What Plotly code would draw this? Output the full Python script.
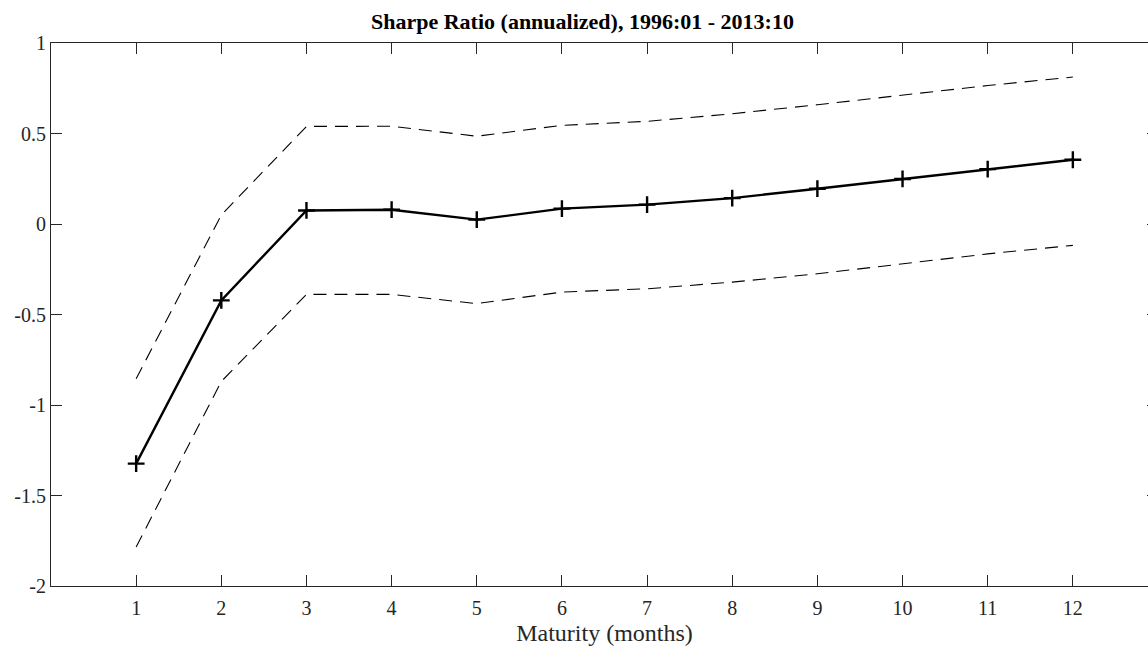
import plotly.graph_objects as go

maturity = [1, 2, 3, 4, 5, 6, 7, 8, 9, 10, 11, 12]
sharpe = [-1.324, -0.422, 0.075, 0.079, 0.024, 0.085, 0.107, 0.143, 0.195, 0.249, 0.303, 0.355]
upper = [-0.855, 0.05, 0.539, 0.54, 0.485, 0.545, 0.567, 0.609, 0.659, 0.712, 0.765, 0.812]
lower = [-1.785, -0.87, -0.389, -0.389, -0.44, -0.376, -0.358, -0.321, -0.275, -0.22, -0.165, -0.118]
yticks = [-2, -1.5, -1, -0.5, 0, 0.5, 1]
ytick_labels = ["-2", "-1.5", "-1", "-0.5", "0", "0.5", "1"]

FONT = "Liberation Serif"
AX = "#262626"

fig = go.Figure()
for band in (upper, lower):
    fig.add_trace(go.Scatter(x=maturity, y=band, mode="lines",
                             line=dict(color="black", width=1.1, dash="13px,8px"),
                             showlegend=False, hoverinfo="skip"))
fig.add_trace(go.Scatter(x=maturity, y=sharpe, mode="lines+markers",
                         line=dict(color="black", width=2.4),
                         marker=dict(symbol="cross-thin", size=12,
                                     line=dict(color="black", width=2.4)),
                         showlegend=False))

fig.update_layout(
    width=1158, height=647,
    margin=dict(l=51, r=0, t=42.5, b=61.3),
    plot_bgcolor="white", paper_bgcolor="white",
    font=dict(family=FONT, size=20, color=AX),
    annotations=[dict(text="<b>Sharpe Ratio (annualized), 1996:01 - 2013:10</b>",
                      xref="paper", yref="paper", x=0.4805, y=1, yanchor="bottom",
                      xanchor="center", yshift=7, showarrow=False,
                      font=dict(family=FONT, size=22, color="black"))],
)
fig.update_xaxes(range=[0, 13], tickvals=maturity, ticks="inside", ticklen=11,
                 tickcolor=AX, showline=True, linecolor=AX, linewidth=1, mirror="ticks",
                 showgrid=False, zeroline=False, ticklabelstandoff=4,
                 title=dict(text="Maturity (months)", standoff=6),
                 tickfont=dict(family=FONT, size=20, color=AX))
fig.update_yaxes(range=[-2, 1], tickvals=yticks, ticktext=ytick_labels, ticks="inside",
                 ticklen=11, tickcolor=AX, showline=True, linecolor=AX, linewidth=1,
                 mirror="ticks", showgrid=False, zeroline=False,
                 tickfont=dict(family=FONT, size=20, color=AX))

fig.write_html("out.html", config={"displayModeBar": False},
               post_script="document.body.style.margin='0';document.body.style.overflow='hidden';document.documentElement.style.overflow='hidden';")
